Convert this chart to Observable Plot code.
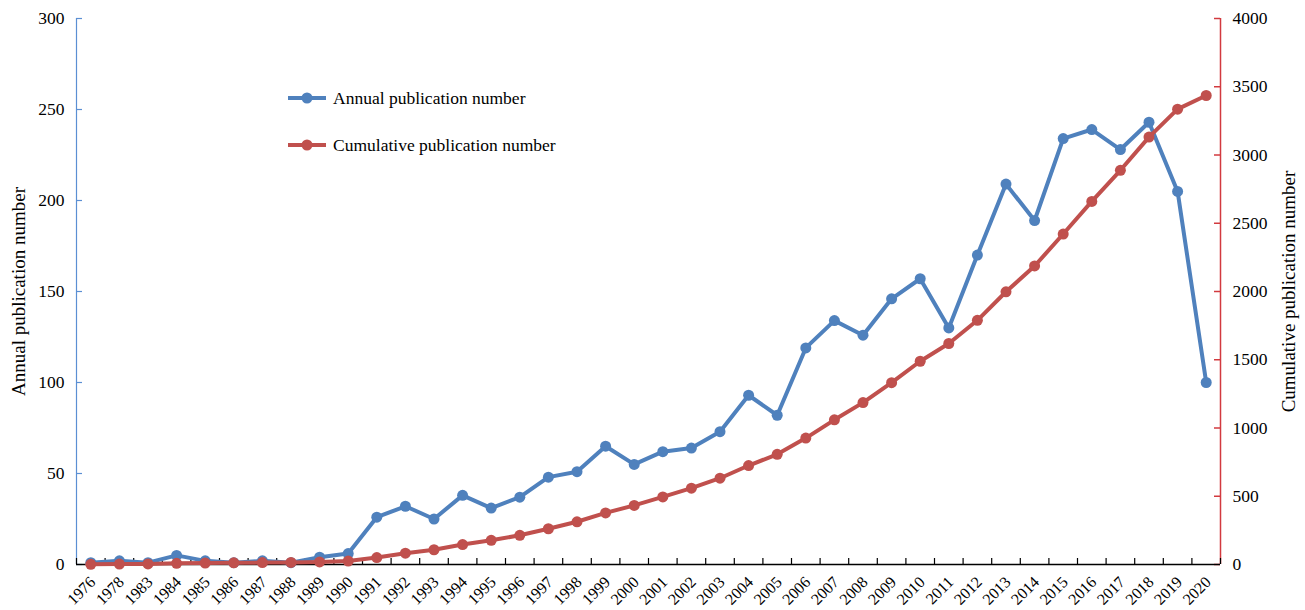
<!DOCTYPE html>
<html>
<head>
<meta charset="utf-8">
<script src="https://cdn.jsdelivr.net/npm/d3@7"></script>
<script src="https://cdn.jsdelivr.net/npm/@observablehq/plot@0.6"></script>
<style>
  html, body { margin: 0; padding: 0; background: #fff; }
  #chart { position: relative; width: 1305px; height: 610px; font-family: "Liberation Serif", "Times New Roman", serif; }
  #chart svg { display: block; }
  .legend { position: absolute; left: 287px; top: 84px; font-size: 17.5px; color: #000; }
  .legend .row { display: flex; align-items: center; height: 28px; margin-bottom: 19px; }
  .legend svg { margin-right: 6px; }
</style>
</head>
<body>
<div id="chart"></div>
<script>
// Publication years (x categories)
const years = ["1976","1978","1983","1984","1985","1986","1987","1988","1989","1990",
  "1991","1992","1993","1994","1995","1996","1997","1998","1999","2000",
  "2001","2002","2003","2004","2005","2006","2007","2008","2009","2010",
  "2011","2012","2013","2014","2015","2016","2017","2018","2019","2020"];

// Papers published each year
const annual = [1,2,1,5,2,1,2,1,4,6,
  26,32,25,38,31,37,48,51,65,55,
  62,64,73,93,82,119,134,126,146,157,
  130,170,209,189,234,239,228,243,205,100];

// Running total of papers
const cumulative = [1,3,4,9,11,12,14,15,19,25,
  51,83,108,146,177,214,262,313,378,433,
  495,559,632,725,807,926,1060,1186,1332,1489,
  1619,1789,1998,2187,2421,2660,2888,3131,3336,3436];

// Axis ticks
const leftTicks = [0,50,100,150,200,250,300];
const rightTicks = [0,500,1000,1500,2000,2500,3000,3500,4000];

const BLUE = "#4f81bd";
const RED = "#c0504d";
const LEFT_AXIS = "#5b8fd3";
const RIGHT_AXIS = "#d23a3f";
const SERIF = "Liberation Serif";

const W = 1305, H = 610;
const mt = 18, mb = 46, ml = 76, mr = 85;
const leftMax = 300, rightMax = 4000;
const k = leftMax / rightMax; // right-axis values drawn on the left scale

const rows = years.map((y, i) => ({i, year: y, annual: annual[i], cum: cumulative[i] * k}));

const pxPerY = (H - mt - mb) / leftMax;
const pxPerX = (W - ml - mr) / years.length;
const tickLen = 6;

const plot = Plot.plot({
  width: W,
  height: H,
  marginTop: mt,
  marginBottom: mb,
  marginLeft: ml,
  marginRight: mr,
  style: `font-family: '${SERIF}', serif; font-size: 17px; color: #000; background: #fff;`,
  x: {type: "linear", domain: [-0.5, years.length - 0.5]},
  y: {domain: [0, leftMax]},
  marks: [
    // left axis (annual)
    Plot.ruleX([-0.5], {stroke: LEFT_AXIS, strokeWidth: 1.2}),
    Plot.ruleY(leftTicks, {x1: -0.5, x2: -0.5 + tickLen / pxPerX, stroke: LEFT_AXIS, strokeWidth: 1.2}),
    Plot.axisY(leftTicks, {anchor: "left", tickSize: 0, tickPadding: 12, fontSize: 17.5, fontFamily: SERIF, label: null}),
    Plot.text(["Annual publication number"], {frameAnchor: "left", textAnchor: "middle", dx: -58, rotate: -90, fontSize: 19, fontFamily: SERIF, fill: "#000"}),
    // right axis (cumulative)
    Plot.ruleX([years.length - 0.5], {stroke: RIGHT_AXIS, strokeWidth: 1.5}),
    Plot.ruleY(rightTicks.map(v => v * k), {x1: years.length - 0.5 - tickLen / pxPerX, x2: years.length - 0.5, stroke: RIGHT_AXIS, strokeWidth: 1.5}),
    Plot.axisY(rightTicks.map(v => v * k), {anchor: "right", tickSize: 0, tickPadding: 12, fontSize: 17.5, fontFamily: SERIF, tickFormat: d => String(Math.round(d / k)), label: null}),
    Plot.text(["Cumulative publication number"], {frameAnchor: "right", textAnchor: "middle", dx: 68, rotate: -90, fontSize: 19, fontFamily: SERIF, fill: "#000"}),
    // x axis with ticks at category boundaries
    Plot.ruleY([0], {stroke: "#000", strokeWidth: 1.5}),
    Plot.ruleX(d3.range(years.length + 1).map(i => i - 0.5), {y1: 0, y2: tickLen / pxPerY, stroke: "#000", strokeWidth: 1.2}),
    Plot.axisX(d3.range(years.length), {tickSize: 0, tickPadding: 15, dx: 2, tickRotate: -45, fontSize: 16, fontFamily: SERIF, tickFormat: i => years[i], label: null}),
    // series
    Plot.line(rows, {x: "i", y: "annual", stroke: BLUE, strokeWidth: 4}),
    Plot.dot(rows, {x: "i", y: "annual", r: 5.5, fill: BLUE}),
    Plot.line(rows, {x: "i", y: "cum", stroke: RED, strokeWidth: 4}),
    Plot.dot(rows, {x: "i", y: "cum", r: 5.5, fill: RED})
  ]
});

const root = document.getElementById("chart");
root.appendChild(plot);

// legend
const legend = document.createElement("div");
legend.className = "legend";
for (const [label, color] of [["Annual publication number", BLUE], ["Cumulative publication number", RED]]) {
  const row = document.createElement("div");
  row.className = "row";
  row.innerHTML = `<svg width="40" height="14"><line x1="1" x2="39" y1="7" y2="7" stroke="${color}" stroke-width="4"/><circle cx="20" cy="7" r="5.5" fill="${color}"/></svg><span>${label}</span>`;
  legend.appendChild(row);
}
root.appendChild(legend);
</script>
</body>
</html>
